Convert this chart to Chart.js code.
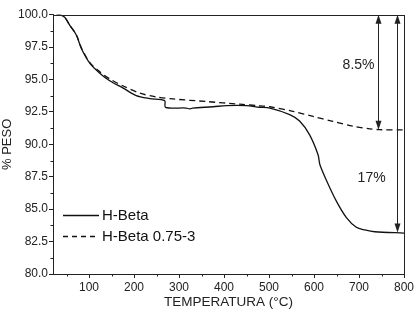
<!DOCTYPE html>
<html><head><meta charset="utf-8">
<script src="https://cdn.jsdelivr.net/npm/chart.js@4"></script>
<style>html,body{margin:0;padding:0;background:#fff}canvas{display:block}</style>
</head><body>
<canvas id="c" width="420" height="313"></canvas>
<script>
// H-Beta (línea continua)
const tempBeta=[28,35,46,57,72,83,102,124,146,176,205,235,268,270,316,324,330,376,405,450,479,502,546,568,590,609,613,628,650,672,694,713,735,800];
const pesoBeta=[100,100,99.8,99.2,98.42,97.4,96.25,95.49,94.9,94.34,93.76,93.53,93.37,92.86,92.8,92.73,92.8,92.9,92.99,92.99,92.86,92.8,92.3,91.8,90.75,89.2,88.45,87.2,85.6,84.35,83.6,83.4,83.26,83.16];
// H-Beta 0.75-3 (línea discontinua)
const tempMod=[28,35,46,57,72,83,102,124,146,176,213,250,287,361,435,480,502,553,598,642,687,724,746,800];
const pesoMod=[100,100,99.8,99.2,98.45,97.45,96.3,95.6,95.05,94.5,93.95,93.65,93.5,93.3,93.1,92.97,92.9,92.55,92.15,91.77,91.4,91.2,91.13,91.12];
const seriesNames=['H-Beta','H-Beta 0.75-3'];
// flechas de pérdida de peso
const arrowTemp=[742,785];
const arrowTop=[100,100];
const arrowBottom=[91.13,83.2];
const arrowLabels=['8.5%','17%'];
const labelTemp=[699,728];
const labelPeso=[96.1,87.4];

const FONT='Arial, "Liberation Sans", sans-serif';
const toXY=(xs,ys)=>xs.map((x,i)=>({x,y:ys[i]}));

const frame={id:'frame',afterDatasetsDraw(ch){
  const a=ch.chartArea,c=ch.ctx;
  c.save(); c.strokeStyle='#222'; c.lineWidth=1;
  c.strokeRect(Math.round(a.left)+.5,Math.round(a.top)+.5,Math.round(a.right-a.left),Math.round(a.bottom-a.top));
  // ticks menores
  const xs=ch.scales.x,ys=ch.scales.y;
  c.beginPath();
  for(let t=50;t<800;t+=100){const px=Math.round(xs.getPixelForValue(t))+.5;c.moveTo(px,a.bottom);c.lineTo(px,a.bottom+2.5);}
  for(let v=81.25;v<100;v+=2.5){const py=Math.round(ys.getPixelForValue(v))+.5;c.moveTo(a.left,py);c.lineTo(a.left-2.5,py);}
  c.stroke(); c.restore();
}};

function head(c,x,y,dir){
  c.beginPath(); c.moveTo(x,y); c.lineTo(x-3,y-dir*9); c.lineTo(x+3,y-dir*9); c.closePath(); c.fill();
}
const arrows={id:'arrows',afterDatasetsDraw(ch){
  const c=ch.ctx,xs=ch.scales.x,ys=ch.scales.y;
  c.save(); c.strokeStyle='#222'; c.fillStyle='#222'; c.lineWidth=1;
  arrowTemp.forEach((t,i)=>{
    const x=Math.round(xs.getPixelForValue(t))+.5;
    const y0=ys.getPixelForValue(arrowTop[i]),y1=ys.getPixelForValue(arrowBottom[i]);
    c.beginPath(); c.moveTo(x,y0+4); c.lineTo(x,y1-4); c.stroke();
    head(c,x,y0,-1); head(c,x,y1,1);
  });
  c.font='14px '+FONT; c.textAlign='center'; c.textBaseline='middle';
  arrowLabels.forEach((l,i)=>c.fillText(l,xs.getPixelForValue(labelTemp[i]),ys.getPixelForValue(labelPeso[i])));
  c.restore();
}};

const legendBox={id:'legendBox',afterDatasetsDraw(ch){
  const c=ch.ctx;
  c.save(); c.strokeStyle='#111'; c.fillStyle='#111'; c.lineWidth=1.3;
  c.font='15px '+FONT; c.textBaseline='middle'; c.textAlign='left';
  seriesNames.forEach((n,i)=>{
    const y=215+i*21;
    c.setLineDash(i?[5,4]:[]);
    c.beginPath(); c.moveTo(63,y+.5); c.lineTo(99,y+.5); c.stroke();
    c.fillText(n,102,y+1);
  });
  c.restore();
}};

new Chart(document.getElementById('c'),{
  type:'line',
  data:{datasets:[
    {label:seriesNames[0],data:toXY(tempBeta,pesoBeta),borderColor:'#111',borderWidth:1.3,pointRadius:0,tension:.3,fill:false},
    {label:seriesNames[1],data:toXY(tempMod,pesoMod),borderColor:'#111',borderWidth:1.3,borderDash:[6,4],pointRadius:0,tension:.3,fill:false}
  ]},
  options:{
    responsive:false,animation:false,
    layout:{padding:{left:0,right:16,top:14.7,bottom:3}},
    plugins:{legend:{display:false},tooltip:{enabled:false}},
    scales:{
      x:{type:'linear',min:20,max:800,
        afterBuildTicks:s=>{s.ticks=s.ticks.filter(t=>t.value%100===0);},
        afterFit:s=>{s.height=36;},
        ticks:{stepSize:100,padding:2,color:'#222',font:{family:FONT,size:12}},
        grid:{drawOnChartArea:false,tickLength:4,color:'#222'},
        border:{color:'#222'},
        title:{display:true,text:'TEMPERATURA (°C)',color:'#222',padding:{top:0,bottom:0},font:{family:FONT,size:13.5}}},
      y:{min:80,max:100,
        afterFit:s=>{s.width=53;},
        ticks:{stepSize:2.5,padding:1,color:'#222',font:{family:FONT,size:12},callback:v=>v.toFixed(1)},
        grid:{drawOnChartArea:false,tickLength:4,color:'#222'},
        border:{color:'#222'},
        title:{display:true,text:'% PESO',color:'#222',padding:{top:0,bottom:2},font:{family:FONT,size:13}}}
    }
  },
  plugins:[frame,arrows,legendBox]
});
</script>
</body></html>
